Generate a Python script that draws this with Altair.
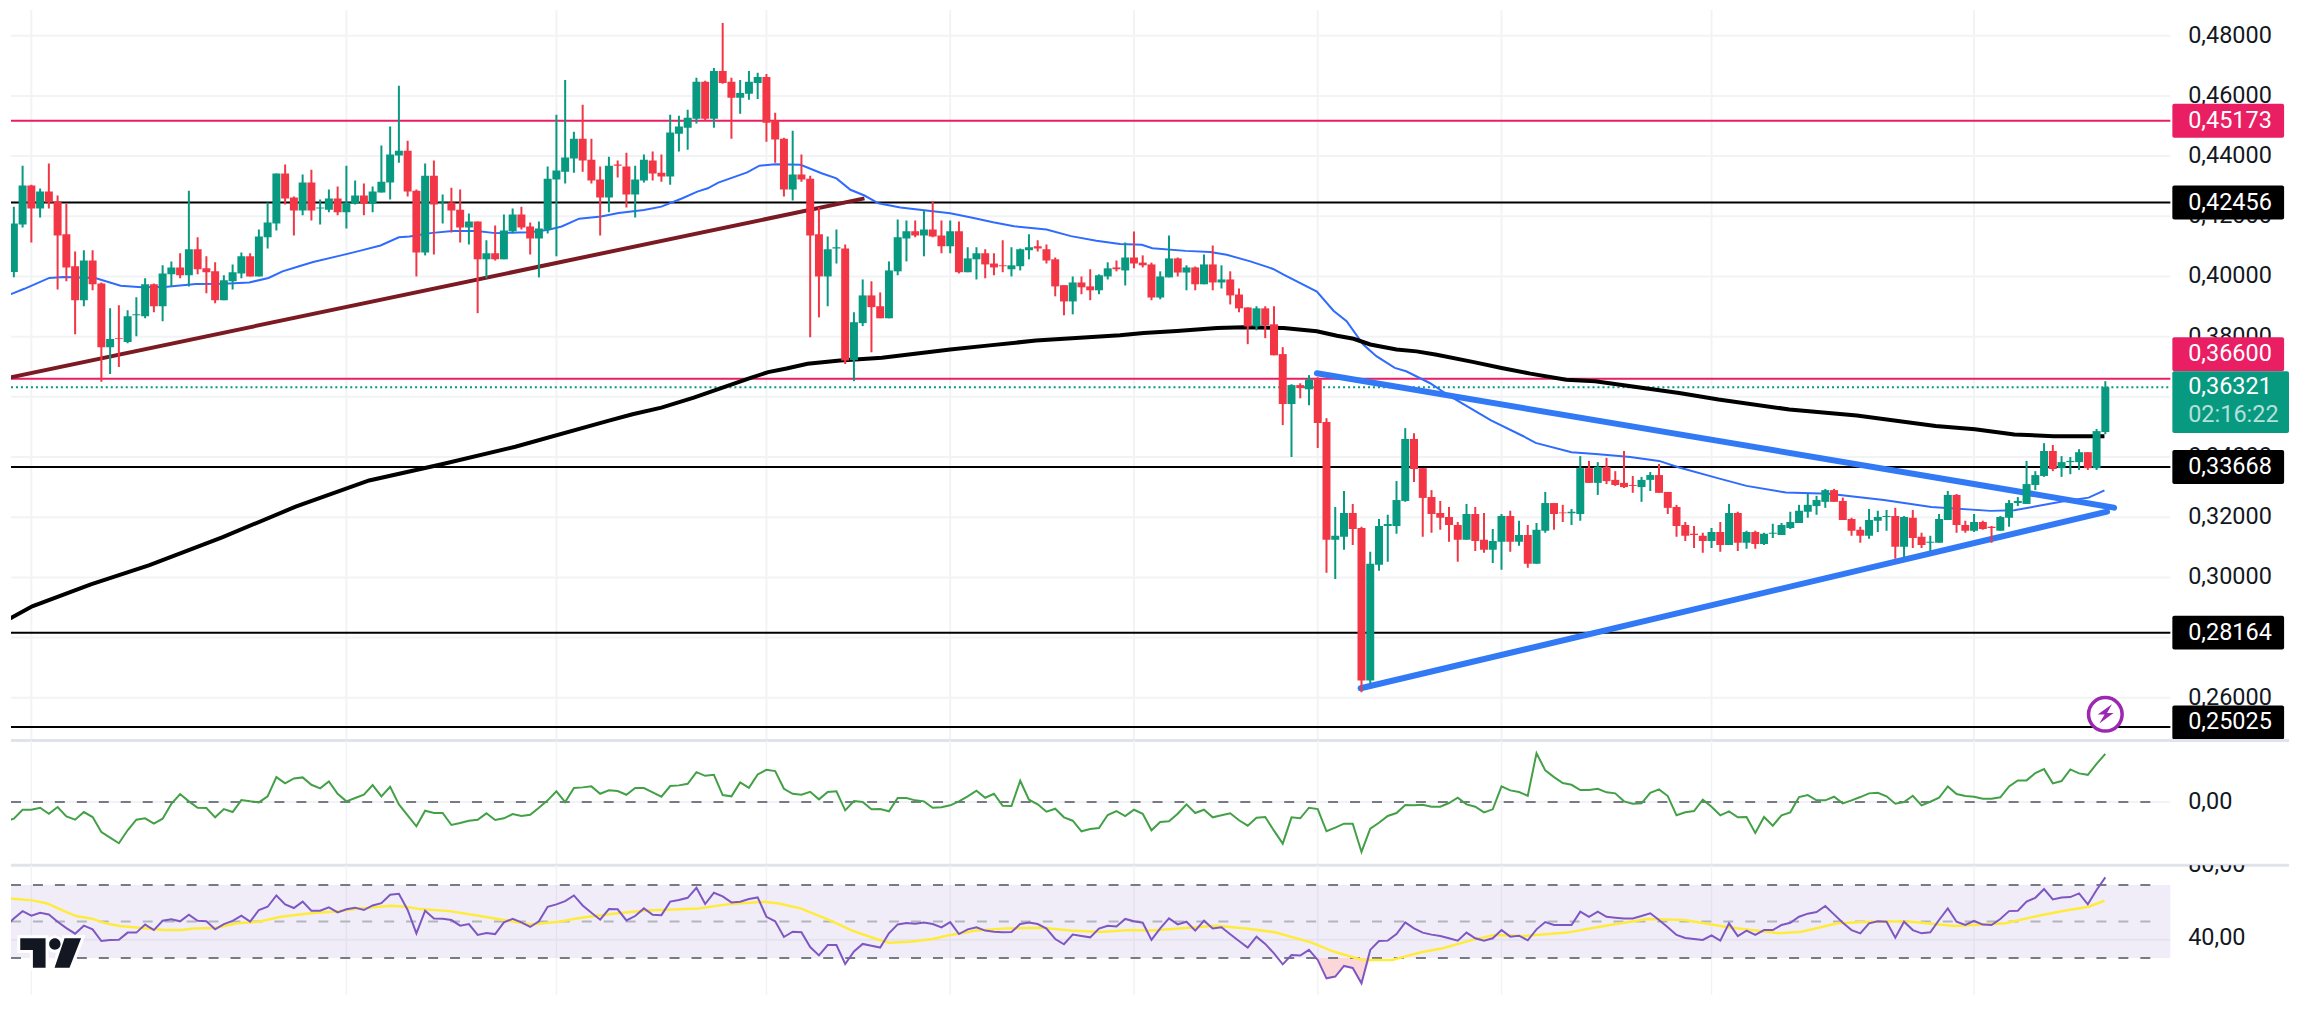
import altair as alt
import pandas as pd

HIGH = [4218,4232,4368,4305,4292,4375,4269,4242,4083,4087,
4087,3980,3894,3904,3888,3931,3994,3977,4037,4050,
4077,4285,4130,4067,4047,4004,4040,4080,4077,4156,
4246,4342,4372,4266,4339,4355,4256,4289,4299,4368,
4319,4309,4299,4435,4498,4634,4451,4289,4375,4385,
4272,4295,4289,4209,4183,4120,4169,4206,4226,4232,
4179,4183,4365,4537,4653,4481,4571,4458,4365,4398,
4385,4411,4368,4405,4415,4405,4537,4534,4554,4660,
4650,4693,4842,4660,4653,4683,4677,4673,4544,4461,
4484,4405,4335,4229,4133,4156,4106,3881,3990,3984,
3947,4050,4189,4186,4186,4219,4249,4186,4186,4183,
4097,4097,4090,4077,4120,4097,4093,4140,4120,4106,
4063,3971,4000,4000,4024,4007,4047,4053,
4113,4149,4070,4046,4017,4136,4063,4037,4033,4073,4103,4037,
4017,3960,3897,3901,3901,3901,3765,3642,3645,3672,
3665,3529,3234,3287,3244,3168,3085,3194,3208,3320,
3496,3479,3363,3290,3254,3234,3184,3244,3234,3214,
3161,3211,3221,3188,3174,3181,3284,3247,3241,3227,
3403,3387,3383,3397,3353,3420,3337,3334,3350,3377,
3284,3241,3184,3171,3148,3164,3184,3244,3218,3155,
3155,3148,3178,3181,3218,3241,3277,3271,3294,3294,
3265,3198,3168,3227,3221,3224,3231,3204,3224,3148,
3138,3211,3287,3277,3188,3211,3188,3171,3204,3257,
3267,3387,3353,3446,3440,3403,3400,3426,3416,3493,3652]

BODY_TOP = [4146,4176,4302,4302,4282,4282,4249,4140,4034,4053,
4053,3977,3792,3795,3868,3874,3974,3974,4010,4030,
4030,4090,4090,4027,4017,3987,4014,4067,4067,4133,
4179,4342,4342,4262,4312,4312,4229,4259,4259,4246,
4269,4269,4282,4315,4405,4418,4418,4285,4335,4335,
4249,4246,4222,4183,4183,4077,4077,4153,4206,4206,
4166,4159,4325,4352,4395,4458,4458,4388,4322,4368,
4372,4365,4322,4388,4385,4345,4478,4498,4527,4647,
4647,4683,4683,4647,4610,4647,4663,4663,4518,4458,
4339,4339,4325,4140,4090,4097,4093,3848,3937,3937,
3901,4020,4130,4150,4150,4156,4156,4136,4150,4150,
4060,4077,4077,4043,4037,4037,4090,4097,4100,4090,
4057,3971,3980,3980,3967,4004,4027,4030,
4063,4063,4046,4040,4000,4060,4060,4030,4030,4040,4040,3990,
3990,3940,3897,3894,3894,3841,3742,3639,3639,3658,
3658,3516,3138,3214,3214,3164,3045,3171,3177,3257,
3460,3460,3363,3267,3214,3201,3174,3211,3211,3125,
3121,3204,3204,3141,3141,3158,3247,3247,3216,3218,
3363,3363,3367,3367,3324,3314,3307,3324,3340,3340,
3284,3234,3174,3145,3138,3151,3151,3214,3214,3151,
3151,3145,3148,3174,3184,3221,3241,3257,3290,3290,
3254,3194,3158,3191,3201,3204,3204,3201,3198,3135,
3118,3194,3274,3274,3174,3184,3184,3168,3201,3247,
3254,3310,3340,3420,3420,3383,3387,3416,3416,3486,3632]

BODY_BOTTOM = [4015,4015,4173,4226,4226,4246,4136,4030,3921,3921,
3974,3765,3765,3792,3782,3871,3868,3901,3901,4007,
4004,4004,4024,4014,3921,3921,3984,4010,4000,4000,
4130,4176,4259,4219,4219,4219,4226,4222,4213,4213,
4242,4242,4242,4279,4312,4402,4282,4080,4080,4239,
4246,4219,4163,4163,4057,4057,4057,4057,4150,4163,
4126,4126,4156,4322,4348,4392,4385,4319,4262,4262,
4368,4272,4272,4319,4342,4332,4332,4474,4494,4524,
4524,4524,4643,4594,4594,4607,4643,4511,4455,4289,
4289,4322,4136,4000,4000,4093,3721,3722,3845,3898,
3861,3861,4017,4126,4136,4136,4133,4100,4100,4014,
4014,4057,4040,4030,4034,4024,4034,4087,4093,4053,
3967,3917,3917,3964,3954,3954,4000,4024,
4020,4043,4037,3930,3930,3997,4013,4013,3974,3974,3980,3980,
3937,3894,3834,3834,3838,3738,3576,3576,3629,3625,
3513,3125,3125,3135,3161,2657,2657,3042,3171,3171,
3254,3360,3264,3211,3198,3174,3125,3125,3121,3092,
3092,3118,3118,3118,3045,3045,3155,3211,3213,3213,
3211,3314,3314,3320,3307,3300,3304,3300,3324,3281,
3231,3171,3138,3141,3121,3121,3108,3108,3115,3115,
3111,3111,3145,3141,3164,3181,3218,3237,3251,3251,
3191,3155,3138,3138,3188,3201,3102,3102,3131,3108,
3115,3115,3191,3174,3155,3155,3161,3164,3155,3198,
3247,3244,3307,3337,3360,3363,3383,3383,3363,3363,3483]

LOW = [3982,3997,4163,4113,4196,4226,3957,3984,3808,3901,
3954,3650,3676,3699,3778,3801,3861,3881,3851,3967,
3994,3967,4007,3944,3911,3921,3957,3994,4000,4000,
4093,4153,4239,4136,4203,4186,4173,4213,4203,4159,
4239,4203,4213,4279,4256,4378,4266,4000,4070,4073,
4176,4146,4113,4106,3878,3994,4053,4057,4143,4156,
4073,3997,4143,4067,4309,4345,4348,4309,4136,4213,
4329,4229,4196,4312,4319,4315,4305,4415,4421,4508,
4518,4494,4640,4458,4541,4587,4590,4448,4378,4266,
4252,4315,3798,3864,3901,4043,3709,3652,3835,3748,
3861,3861,4004,4050,4130,4067,4130,4077,4077,4010,
4014,3990,3994,4004,4014,4000,4020,4057,4083,4043,
3934,3871,3874,3941,3921,3941,3990,4017,
3970,4027,4030,3921,3924,3997,4000,3954,3954,3974,3954,3960,
3907,3881,3775,3821,3795,3738,3506,3400,3595,3572,
3430,3015,2995,3092,3108,2618,2647,3022,3052,3145,
3251,3317,3135,3148,3158,3118,3052,3125,3088,3082,
3048,3025,3085,3105,3032,3045,3148,3158,3184,3174,
3188,3314,3274,3310,3304,3297,3281,3251,3287,3281,
3211,3135,3121,3098,3082,3098,3085,3108,3088,3095,
3095,3108,3131,3141,3161,3181,3198,3208,3231,3251,
3191,3138,3115,3128,3151,3155,3062,3068,3098,3098,
3088,3115,3191,3148,3148,3151,3158,3115,3155,3168,
3237,3244,3290,3334,3353,3334,3343,3357,3357,3357,3476]

DIRECTION = ("rggrgrrrrg" "rrgrgggrgg" "rgrrrgggrg" "ggrrgrggrg" "grggggrrgr" "grrgrgrggr"
             "rgggggrrrg" "rrggrrgggg" "rgrrgggrrr" "grrrggrggr" "rgggrgrrgr" "ggrrrgggrr"
             "rrgrrggrgr" "rrggrgrgrg" "rrrgrrrgrg" "rrggrrgggg" "grrrrrrgrr" "ggrgrggrrg"
             "grgrrrrggr" "rrrrrgrgrg" "rggggggggr" "rrrgggrgrr" "gggrrgrrgg" "ggggrgggrgg")

MA_FAST_X = [-0.24,2.2,5.05,6.7,10.3,13.2,15.6,18.5,21.8,25,27.9,30.1,31.7,33.6,35.2,38.4,40.5,42.9,45,46.2,48.6,51.1,53.9,56,60,62.1,
63.6,65.6,68.1,70.1,73,75,77.4,79.1,80.3,81.5,84.8,86.2,88,90.9,93.3,95,96.6,98.2,99.8,102.3,108,110.4,112.9,115.3,119,121.8,124.7,127.4,
129.9,131.1,134.9,137.7,139.6,142.3,144.9,146.1,149.9,151.8,153.3,155.2,156.7,158.8,160.1,162.8,165.1,169.8,
173.5,174.9,179,182.1,185.7,189,191.3,195.8,199,203.5,208.4,214.7,220.1,226.9,229.6,235.4,238.1,239.9]
MA_FAST_Y = [3931,3959,3995,3998,3995,3969,3964,3966,3975,3976,3980,3995,4017,4034,4048,4070,4085,4103,4130,4133,4144,4151,4151,4144,4147,4155,
4166,4192,4199,4211,4221,4232,4260,4282,4293,4312,4346,4368,4373,4371,4343,4326,4288,4269,4243,4229,4210,4196,4180,4167,4156,4134,4119,4108,
4105,4094,4085,4081,4072,4050,4025,4006,3950,3886,3851,3774,3735,3696,3685,3646,3602,3522,
3469,3447,3416,3409,3400,3387,3365,3329,3304,3282,3278,3257,3234,3221,3223,3254,3265,3289]

MA_SLOW_X = [-0.2,3.1,9.8,16.5,24.8,33.2,41.6,49.9,58.3,68.9,71.7,75,78.7,81.9,85.2,87.2,89.3,91.7,95.4,100.2,108,112.5,117.8,127.4,
130.1,133.9,138.5,141.5,146.1,149.9,152.2,154.1,156,159,161.3,163.6,167.7,171,174.3,178.4,181.7,191.3,195.8,203.9,211.6,220.6,225.1,229.6,234.1,239.9]
MA_SLOW_Y = [2851,2904,2977,3041,3133,3235,3322,3376,3434,3520,3542,3564,3597,3630,3663,3682,3694,3710,3721,3730,3757,3771,3787,3805,
3812,3819,3829,3831,3829,3818,3803,3793,3774,3757,3751,3740,3716,3696,3677,3657,3652,3613,3591,3558,3538,3503,3492,3475,3469,3469]

OSC = [-19.3,-16.7,-7.7,-7.7,-5.7,-11.7,-5,-14.3,-17.7,-10,-15,-30,-35.7,-41.3,-28.3,-17.7,-16.3,-21.7,-16.7,-1.7,
8,.7,-5.7,-6,-15.3,-7,-10,2,.7,-.3,5.7,25,18.7,23.7,24.7,17.3,13.7,20.7,8.3,.7,
4,7.3,17,5.7,15.3,-2.3,-13.3,-24.3,-8.7,-11,-11,-23,-21,-18.7,-17.7,-11.3,-18,-16.3,-12,-14,
-12.7,-5.7,1.7,10.7,0,14,14.7,15.7,8.3,11.7,11,7.3,14,14,9.7,5.3,16,16.7,18.3,30,
26.3,27.3,7,5.7,19.7,14.3,27.7,32.3,31,13.3,8.3,7.3,10.3,2.7,10,10.7,-8.3,1,0,-7.3,
-7,-9.3,4,4,1.7,.7,-5.7,-5.3,-3.3,.7,5.7,11.3,4.3,8.3,-3.7,-4,21.3,2.3,-2.3,-9.7,
-6.7,-15.3,-18.7,-29.3,-27,-26,-13,-9,-14,-7.7,-11.7,-28.3,
-20,-19.3,-11.7,-2.3,-11,-7.7,-15.3,-13.3,-11.3,-18.3,-23.7,-15.7,-15,-28.7,-41.7,-15.3,-16.3,-5.7,-7,-29.3,
-25.7,-21.7,-21.7,-50,-26.7,-20.7,-14,-11,-3,-3.3,-2.7,-4.7,-4.7,-1,4.3,-2.3,-4.7,-10.3,-7.3,15.7,
11.7,10,6.3,49,31.7,25,19,17.3,12,12,13.3,9.7,8.7,.7,-1.7,-1.3,9.3,12.7,6,-13.3,
-10.3,-9,2.3,-4.7,-13.3,-9.3,-15.3,-15,-31,-15,-23.7,-13.3,-10.3,5,7,1.7,1.7,5.3,-1.3,1.7,
5,8.7,9.3,5.7,-1.7,0,6.3,-3.3,.3,4.3,15.7,8,6,5.3,3.3,3.3,4.7,15.7,21.7,21.7,
29,33,18.7,21,32.7,28.7,27.3,38.3,48.3]

RSI = [47.2,51.7,55.7,53.2,54.8,53.9,49.9,46.4,43.3,47.7,45.7,39.3,39.9,40,43.9,43.9,48.3,45.3,50.4,51.2,
50.1,53.7,50.4,50.1,45.7,48.6,50.3,53.2,49.9,56.3,58.1,64.3,59.4,57.4,60.9,55.9,55.9,57.8,55,56.7,
57.6,56.3,58.8,60.1,64.7,65.2,56.3,43.5,55.9,51.7,51.5,50.8,47.7,48.6,42.6,43.7,43.1,49.5,51.5,49.5,
47,50.1,58.1,59.4,61.2,64.3,58.8,54.8,51,56.8,56.7,50.6,53,57.2,53.7,53.5,60.9,61.8,63,68.5,
59.6,65.8,63.8,60.5,60.9,62.3,63.2,52.6,50.1,41.5,44.4,44.1,36,31.4,37.1,37.1,26.7,33.6,37.7,36.7,
35.7,43.5,48.4,49.2,48.8,49.5,48.6,46.8,49.7,43.1,45.7,46.8,45,44.4,44.1,44.2,48.6,49.5,48.6,46.1,
40.4,37.5,42.8,42,41.3,46.1,47.7,47.3,51.4,50.1,49.3,39.9,
46.2,51.7,48.4,49.9,45,50.4,46.2,46.8,43,39.3,35.7,41.7,37.7,32.5,26.5,31.6,31.3,34.4,28.9,18.8,
19.8,25.6,24.5,16.1,34.4,39.3,39.5,43.1,49.5,46.2,43.9,42.8,42,40.8,39.5,43.9,40.8,39.5,40.8,45.3,
41.7,42.2,39.7,45.7,49.7,48.1,48.1,48.1,55.4,52.6,55.4,52.6,52.1,51.7,51.7,53,54.5,50.8,46.8,42.6,
41,40.4,39.9,42.4,39.5,49,42,45,42.6,45.3,45.3,48.1,49.3,52.6,54.3,55.2,58.5,53.9,49.3,45.3,
43.5,49,50.1,49.9,41.1,49.9,45.3,43.5,44.1,50.8,57.2,49.9,48.1,50.3,48.3,48.1,51.4,55.7,55.9,60.9,
63,67.8,62.1,63.2,63.4,65.4,59.4,67.3,74.2]

RSI_MA_X = [-.2,3.1,4.8,6.5,8.1,9.8,11.5,13.1,15.6,18.2,20.2,21.5,24,26.5,29,31.5,34.9,37.4,40.7,44.1,45.8,47.4,50.8,54.1,57.5,60,63.3,65.8,70,73.3,79.2,82.5,86.7,88.4,90.9,94.2,96.8,99.3,101,103.4,106,107.6,111,114.3,118.5,121.8,125.2,128.5,130.9,
133.4,138.4,141.8,145.1,149.3,151.8,155.1,158.5,161.8,164.3,167.7,170.2,173.5,178.5,182.7,187.7,191.9,196.9,202.7,205.3,209.4,214.4,217.8,222.8,228.6,232.8,235.3,238.1,239.9]
RSI_MA_Y = [62.9,61.6,59.9,56.3,53,51.7,49,47.5,46.4,45.3,45.3,46.2,46.4,49,49.9,52.6,54.5,55.4,57.2,58.7,58.1,56.8,55.7,53.2,50.4,48.4,49.9,52.1,54.5,56.1,57.2,59.4,60.9,59.9,57.2,50.8,45,40.8,38.4,38.9,40.4,42.2,45,46.2,46.6,45,44.2,45.3,45,
45.9,47.7,46.2,44.1,38.4,33.5,28.9,28.9,33.1,35.3,39.9,42.6,42,43.9,47.5,51.4,50.8,46.8,43.5,44.4,49,50.1,49.9,47.5,49,53.6,55.9,58.1,61.4]

PRICE_TICKS = [.48,.46,.44,.42,.40,.38,.36,.34,.32,.30,.28,.26]
PRICE_TICK_TEXT = ["0,48000","0,46000","0,44000","0,42000","0,40000","0,38000","0,36000","0,34000","0,32000","0,30000","0,28000","0,26000"]
TIME_GRID = [3,39,63,87,108,129,150,171,195,225]
LEVELS = [.45173,.42456,.366,.33668,.28164,.25025]
LEVEL_COLOR = ["#e91e63","#000000","#e91e63","#000000","#000000","#000000"]
TAG_TEXT = ["0,45173","0,42456","0,36600","0,33668","0,28164","0,25025"]
TAG_Y = [.45173,.42456,.37414,.33668,.28164,.2518]
LAST_PRICE = .36321
BROWN_X = [-.24,98.2]; BROWN_Y = [.36594,.42595]
UPPER_X = [149.9,241.0]; UPPER_Y = [.36783,.32317]
LOWER_X = [154.9,240.2]; LOWER_Y = [.26315,.32184]

assert len(HIGH)==len(BODY_TOP)==len(BODY_BOTTOM)==len(LOW)==len(DIRECTION)==len(OSC)==len(RSI), (len(HIGH),len(BODY_TOP),len(BODY_BOTTOM),len(LOW),len(DIRECTION),len(OSC),len(RSI))

FONT = "Roboto"; FS = 23.5
W = 2283
X0, X1, XP, XT, XA, XB = 0.673, 260.99, 247.43, 249.47, 247.66, 260.43
xs = alt.Scale(domain=[X0, X1], nice=False, zero=False, padding=0)
GRID = "#f2f3f5"; GREEN = "#089981"; RED = "#f23645"; DASH = "#787b86"; SEP = "#e0e3eb"

def X(f="x"): return alt.X(f"{f}:Q", scale=xs, axis=None)
def Y(ys, f="y"): return alt.Y(f"{f}:Q", scale=ys, axis=None)
def hrules(vals, ys, color, sw=2, dash=None, x0=X0, x1=XP):
    d = pd.DataFrame({"y": vals, "x": x0, "x2": x1})
    kw = {"strokeDash": dash} if dash else {}
    return alt.Chart(d).mark_rule(color=color, strokeWidth=sw, **kw).encode(x=X(), x2="x2:Q", y=Y(ys))
def vgrid(ys, lo, hi, sw=2):
    d = pd.DataFrame({"x": TIME_GRID, "y": lo, "y2": hi})
    return alt.Chart(d).mark_rule(color=GRID, strokeWidth=sw).encode(x=X(), y=Y(ys), y2="y2:Q")
def sep(ys, lo):
    d = pd.DataFrame({"x": [X0], "x2": [X1], "y": [lo]})
    return alt.Chart(d).mark_rule(color=SEP, strokeWidth=3).encode(x=X(), x2="x2:Q", y=Y(ys))
def line(xv, yv, ys, color, sw, **kw):
    d = pd.DataFrame({"x": xv, "y": yv})
    return alt.Chart(d).mark_line(color=color, strokeWidth=sw, clip=True, **kw).encode(
        x=X(), y=Y(ys), order=alt.Order("x:Q"))
def labels(vals, texts, ys, color="#131722"):
    d = pd.DataFrame({"y": vals, "t": texts, "x": XT})
    return alt.Chart(d).mark_text(align="left", baseline="middle", font=FONT, fontSize=FS, color=color, clip=True).encode(
        x=X(), y=Y(ys), text="t:N")

# ---------- price panel
P_LO, P_HI = .2458, .48852
yp = alt.Scale(domain=[P_LO, P_HI], nice=False, zero=False)
c = pd.DataFrame({"x": range(len(HIGH)),
                  "h": [v/1e4 for v in HIGH], "l": [v/1e4 for v in LOW],
                  "t": [v/1e4 for v in BODY_TOP], "b": [v/1e4 for v in BODY_BOTTOM],
                  "d": list(DIRECTION)})
col = alt.Color("d:N", scale=alt.Scale(domain=["g","r"], range=[GREEN,RED]), legend=None)
wick = alt.Chart(c).mark_rule(strokeWidth=2, clip=True).encode(x=X(), y=Y(yp,"h"), y2="l:Q", color=col)
body = alt.Chart(c).mark_bar(size=8, clip=True).encode(x=X(), y=Y(yp,"t"), y2="b:Q", color=col)

layers = [hrules(PRICE_TICKS, yp, GRID), vgrid(yp, P_LO, P_HI)]
for v, k in zip(LEVELS, LEVEL_COLOR):
    layers.append(hrules([v], yp, k))
layers.append(hrules([LAST_PRICE], yp, GREEN, dash=[2,3]))
layers.append(line(BROWN_X, BROWN_Y, yp, "#7b1a22", 4))
layers.append(line(MA_FAST_X, [v/1e4 for v in MA_FAST_Y], yp, "#2f6bff", 2))
layers.append(line(MA_SLOW_X, [v/1e4 for v in MA_SLOW_Y], yp, "#000000", 4))
layers.append(line(UPPER_X, UPPER_Y, yp, "#3179f5", 6, strokeCap="round"))
layers.append(line(LOWER_X, LOWER_Y, yp, "#3179f5", 6, strokeCap="round"))
layers += [wick, body, labels(PRICE_TICKS, PRICE_TICK_TEXT, yp)]

TAG_H = .01127
tags = pd.DataFrame({"x": XA, "x2": XB, "y": [v+TAG_H/2 for v in TAG_Y], "y2": [v-TAG_H/2 for v in TAG_Y], "k": LEVEL_COLOR})
layers.append(alt.Chart(tags).mark_rect(cornerRadius=2, clip=True).encode(
    x=X(), x2="x2:Q", y=Y(yp), y2="y2:Q", color=alt.Color("k:N", scale=None, legend=None)))
layers.append(alt.Chart(pd.DataFrame({"x":[XA],"x2":[X1],"y":[.3685],"y2":[.3480]})).mark_rect(color=GREEN, cornerRadius=2, clip=True).encode(
    x=X(), x2="x2:Q", y=Y(yp), y2="y2:Q"))
layers.append(labels(TAG_Y, TAG_TEXT, yp, "#ffffff"))
layers.append(labels([.3633], ["0,36321"], yp, "#ffffff"))
layers.append(labels([.3539], ["02:16:22"], yp, "#b5e0d9"))

ic = pd.DataFrame({"x":[240.0],"y":[.2545]})
layers.append(alt.Chart(ic).mark_point(shape="circle", filled=True, fill="#ffffff", stroke="#9c27b0", strokeWidth=3.5, size=1134, opacity=1).encode(x=X(), y=Y(yp)))
BOLT = "M.67,-1L-.77,.03L-.07,.03L-.6,.93L.83,-.13L.17,-.13Z"
layers.append(alt.Chart(ic).mark_point(shape=BOLT, filled=True, color="#9c27b0", size=400, opacity=1).encode(x=X(), y=Y(yp)))
layers.append(sep(yp, P_LO))
price = alt.layer(*layers).properties(width=W, height=732)

# ---------- oscillator panel
O_LO, O_HI = -63.3, 61.7
yo = alt.Scale(domain=[O_LO, O_HI], nice=False, zero=False)
osc = alt.layer(
    hrules([0], yo, GRID), vgrid(yo, O_LO, O_HI, 1.5),
    hrules([0], yo, DASH, dash=[10,12], x1=246.0),
    line(list(range(len(OSC))), OSC, yo, "#43a047", 2),
    labels([0], ["0,00"], yo),
    sep(yo, O_LO),
).properties(width=W, height=125)

# ---------- RSI panel
R_LO, R_HI = 9.7, 80.9
yr = alt.Scale(domain=[R_LO, R_HI], nice=False, zero=False)
band = alt.Chart(pd.DataFrame({"x":[X0],"x2":[XP],"y":[70],"y2":[30]})).mark_rect(color="#7e57c2", opacity=.11).encode(
    x=X(), x2="x2:Q", y=Y(yr), y2="y2:Q")
low = pd.DataFrame({"x": list(range(len(RSI))), "y": [min(v,30) for v in RSI], "y2": 30})
low = low[(low.x>=149)&(low.x<=156)]
area = alt.Chart(low).mark_area(color=RED, opacity=.2, clip=True).encode(x=X(), y=Y(yr), y2="y2:Q")
LOGO = "M-.99,-.474L-.171,-.474L-.171,.474L-.581,.474L-.581,-.097L-.99,-.097Z M.442,-.474L.977,-.474L.603,.474L.119,.474Z M-.055,-.29a.184,.184 0 1,0 .368,0a.184,.184 0 1,0 -.368,0Z"
lg = pd.DataFrame({"x":[5.23],"y":[32.7]})
rsi = alt.layer(
    hrules([40], yr, GRID), vgrid(yr, R_LO, R_HI, 1.5), band, area,
    hrules([70,30], yr, DASH, dash=[10,12], x1=246.0),
    hrules([50], yr, "#b2b5be", dash=[10,12], x1=246.0),
    line(RSI_MA_X, RSI_MA_Y, yr, "#ffeb3b", 2.5),
    line(list(range(len(RSI))), RSI, yr, "#7e57c2", 2),
    labels([81.0, 40.7], ["80,00","40,00"], yr),
    alt.Chart(lg).mark_point(shape=LOGO, filled=True, fill="#ffffff", stroke="#ffffff", strokeWidth=6, size=3844, opacity=1).encode(x=X(), y=Y(yr)),
    alt.Chart(lg).mark_point(shape=LOGO, filled=True, color="#131722", size=3844, opacity=1).encode(x=X(), y=Y(yr)),
).properties(width=W, height=130)

chart = alt.vconcat(price, osc, rsi, spacing=0, bounds="flush").properties(padding=0, background="#ffffff").configure_view(stroke=None)
chart.save("out.html", embed_options={"renderer": "svg", "actions": False})
